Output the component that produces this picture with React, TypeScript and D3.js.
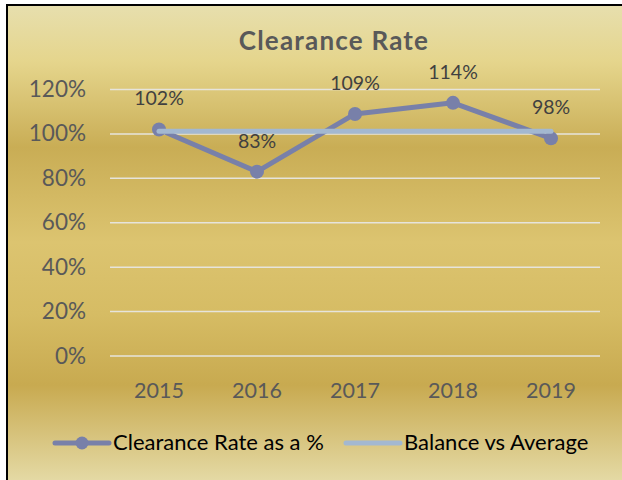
import React from "react";
import * as d3 from "d3";

const categories = ["2015", "2016", "2017", "2018", "2019"];
const clearanceRate = [1.02, 0.83, 1.09, 1.14, 0.98];
const dataLabels = ["102%", "83%", "109%", "114%", "98%"];
const balanceAverage = [1.012, 1.012, 1.012, 1.012, 1.012];
const yTicks = [0, 0.2, 0.4, 0.6, 0.8, 1.0, 1.2];
const title = "Clearance Rate";
const legendNames = ["Clearance Rate as a %", "Balance vs Average"];

export default function App() {
  const W = 622, H = 480;
  const x = d3.scaleBand<string>().domain(categories).range([110, 600]);
  const y = d3.scaleLinear().domain([0, 1.2]).range([356, 89.5]);
  const cx = (c: string) => (x(c) as number) + x.bandwidth() / 2;
  const line = d3.line<number>().x((_, i) => cx(categories[i])).y((d) => y(d));
  const fmt = d3.format(".0%");
  const font = "'Gill Sans', 'Gill Sans MT', Lato, 'DejaVu Sans', sans-serif";
  const lineColor = "#7880a9";
  const avgColor = "#a3b8d0";
  return (
    <div style={{ position: "absolute", left: 0, top: 0 }}>
      <svg width={W} height={H} style={{ display: "block" }}>
        <defs>
          <linearGradient id="bg" x1="0" y1="0" x2="0" y2="1">
            <stop offset="0" stopColor="#e7dfae" />
            <stop offset="0.12" stopColor="#e5d58c" />
            <stop offset="0.3" stopColor="#c9ad55" />
            <stop offset="0.5" stopColor="#dcc470" />
            <stop offset="0.65" stopColor="#d6bc64" />
            <stop offset="0.8" stopColor="#c8aa50" />
            <stop offset="1" stopColor="#e4d9a4" />
          </linearGradient>
        </defs>
        <rect x={0} y={0} width={W} height={H} fill="#ffffff" />
        <rect x={7} y={5} width={W - 7} height={H - 5} fill="url(#bg)" />
        <line x1={7} x2={7} y1={4} y2={H} stroke="#000" strokeWidth={2} />
        <line x1={6} x2={W} y1={5} y2={5} stroke="#000" strokeWidth={2} />
        <text x={334} y={50} textAnchor="middle" fontFamily={font} fontWeight="bold" fontSize={26} letterSpacing={1.2} fill="#595959">{title}</text>
        {yTicks.map((t) => (
          <g key={t}>
            <line x1={110} x2={600} y1={y(t)} y2={y(t)} stroke="#e6e4dc" strokeWidth={1.5} />
            <text x={86} y={y(t) + 7.5} textAnchor="end" fontFamily={font} fontSize={22.5} fill="#595959">{fmt(t)}</text>
          </g>
        ))}
        {categories.map((c) => (
          <text key={c} x={cx(c)} y={398} textAnchor="middle" fontFamily={font} fontSize={21.5} fill="#595959">{c}</text>
        ))}
        <path d={line(clearanceRate) || ""} fill="none" stroke={lineColor} strokeWidth={5} strokeLinejoin="round" />
        {clearanceRate.map((v, i) => (
          <circle key={i} cx={cx(categories[i])} cy={y(v)} r={7} fill={lineColor} />
        ))}
        <path d={line(balanceAverage) || ""} fill="none" stroke={avgColor} strokeWidth={5} strokeLinecap="round" />
        {clearanceRate.map((v, i) => (
          <text key={i} x={cx(categories[i])} y={y(v) - 24} textAnchor="middle" fontFamily={font} fontSize={19.5} fill="#404040">{dataLabels[i]}</text>
        ))}
        <line x1={55} x2={109} y1={443} y2={443} stroke={lineColor} strokeWidth={5} strokeLinecap="round" />
        <circle cx={82} cy={443} r={6.5} fill={lineColor} />
        <text x={113} y={450} fontFamily={font} fontSize={22} fill="#000">{legendNames[0]}</text>
        <line x1={346} x2={400} y1={443} y2={443} stroke={avgColor} strokeWidth={5} strokeLinecap="round" />
        <text x={404} y={450} fontFamily={font} fontSize={22} fill="#000">{legendNames[1]}</text>
      </svg>
    </div>
  );
}
